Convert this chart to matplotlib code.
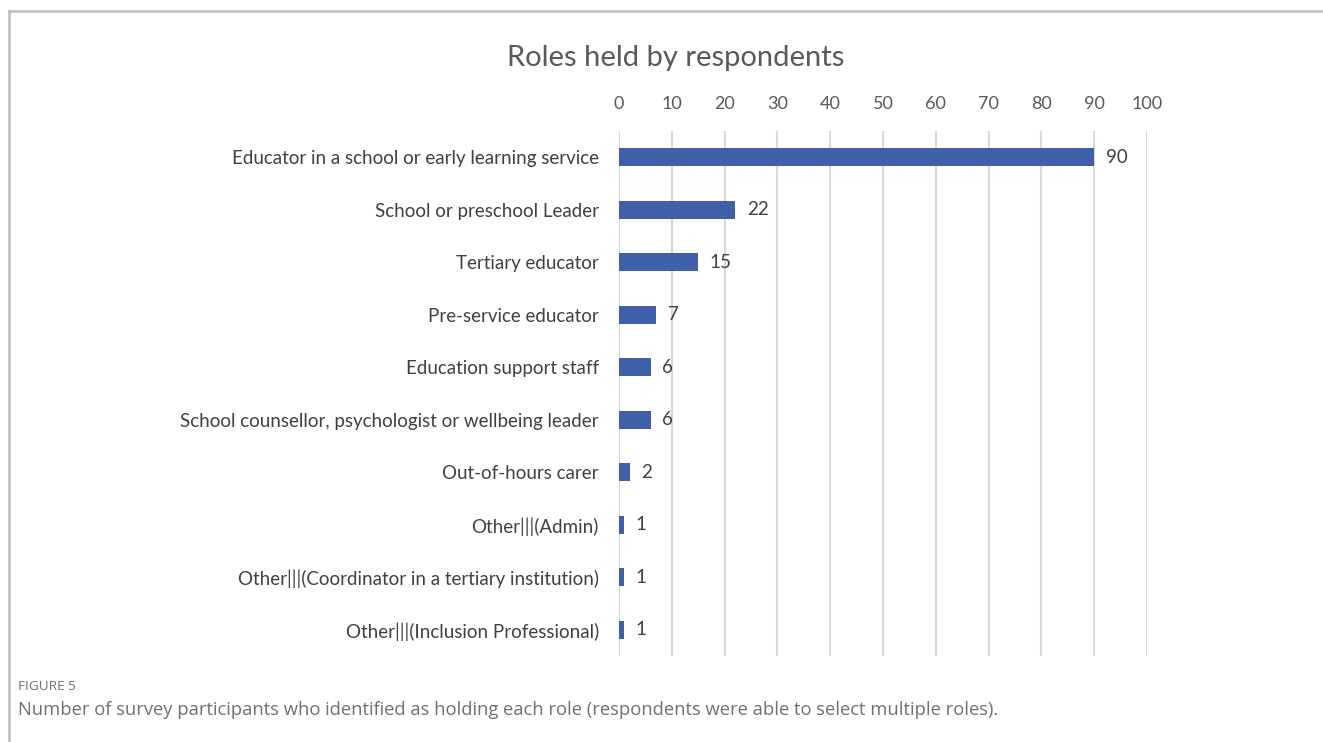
import matplotlib.pyplot as plt
from matplotlib.lines import Line2D

roles = [
    'Educator in a school or early learning service',
    'School or preschool Leader',
    'Tertiary educator',
    'Pre-service educator',
    'Education support staff',
    'School counsellor, psychologist or wellbeing leader',
    'Out-of-hours carer',
    'Other|||(Admin)',
    'Other|||(Coordinator in a tertiary institution)',
    'Other|||(Inclusion Professional)',
]
counts = [90, 22, 15, 7, 6, 6, 2, 1, 1, 1]
ticks = list(range(0, 101, 10))

plt.rcParams['font.family'] = ['Lato', 'DejaVu Sans']

fig = plt.figure(figsize=(13.23, 7.42), dpi=100)
ax = fig.add_axes([0.4679, 0.1159, 0.3991, 0.7075])

ypos = list(range(len(roles)))
ax.barh(ypos, counts, height=0.34, color='#3F5FA8', zorder=3)
for y, v in zip(ypos, counts):
    ax.text(v + 2.2, y, str(v), va='center', ha='left', fontsize=13.5, color='#404040')

ax.set_xlim(0, 100)
ax.set_ylim(len(roles) - 0.5, -0.5)
ax.set_xticks(ticks)
ax.xaxis.tick_top()
ax.tick_params(axis='x', length=0, pad=14, labelsize=13, labelcolor='#595959')
ax.set_yticks(ypos)
ax.set_yticklabels(roles)
ax.tick_params(axis='y', length=0, pad=14.5, labelsize=13.5, labelcolor='#404040')
ax.grid(axis='x', color='#D9D9D9', linewidth=1.5, zorder=0)
for s in ax.spines.values():
    s.set_visible(False)

fig.text(0.511, 0.922, 'Roles held by respondents', ha='center', va='center',
         fontsize=21, color='#595959')

fig.text(0.0136, 0.075, 'FIGURE 5', ha='left', va='center', fontsize=9.7,
         color='#707070', family=['Open Sans', 'DejaVu Sans'])
fig.text(0.0136, 0.0425,
         'Number of survey participants who identified as holding each role '
         '(respondents were able to select multiple roles).',
         ha='left', va='center', fontsize=13.25, color='#707070',
         family=['Open Sans', 'DejaVu Sans'])

# frame lines (top and left)
fig.add_artist(Line2D([0.0065, 1.0], [0.9858, 0.9858], color='#BDBDBD', linewidth=1.8,
                      transform=fig.transFigure))
fig.add_artist(Line2D([0.0065, 0.0065], [0.0, 0.9858], color='#BDBDBD', linewidth=1.8,
                      transform=fig.transFigure))

fig.savefig('out.png', dpi=100)
